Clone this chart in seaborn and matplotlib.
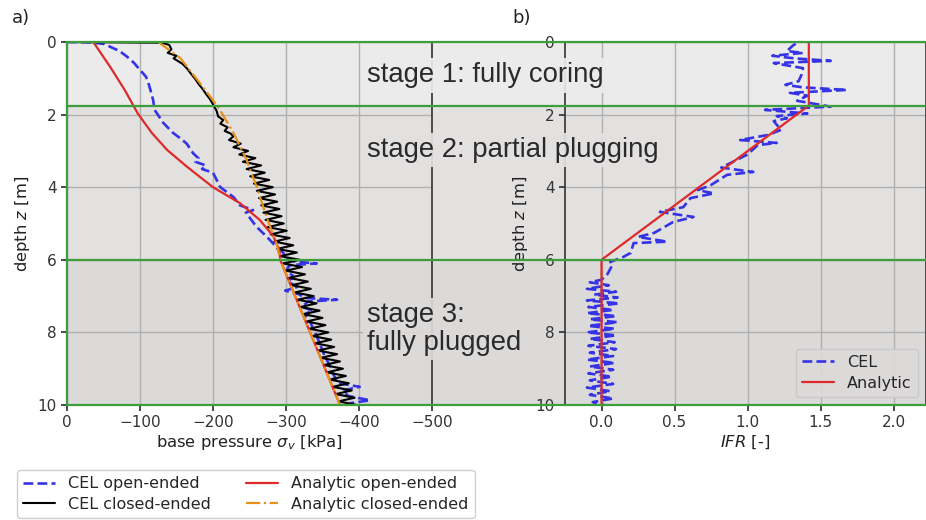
import numpy as np
import pandas as pd
import matplotlib
matplotlib.use("Agg")
import matplotlib.pyplot as plt
import seaborn as sns
from matplotlib.patches import Rectangle

# ---- data ----
# a) base pressure vs depth
open_cel_p = [0, -30, -50, -59, -72, -82, -92, -100, -108, -111, -114, -116, -118, -120,
              -126, -132, -145, -155, -164, -173, -180, -176, -190, -185, -200, -210, -228,
              -237, -255, -245, -260, -274, -287, -296, -300, -312, -342, -305, -300, -310,
              -303, -315, -299, -318, -325, -370, -330, -322, -337, -325, -332, -335, -340,
              -344, -348, -352, -357, -362, -366, -372, -401, -378, -385, -415, -388, -390]
open_cel_z = [0.0, 0.01, 0.05, 0.13, 0.25, 0.4, 0.58, 0.77, 0.95, 1.1, 1.3, 1.45, 1.6, 1.87,
              2.05, 2.23, 2.5, 2.65, 2.8, 3.07, 3.2, 3.3, 3.4, 3.5, 3.6, 4.0, 4.27,
              4.5, 4.63, 4.7, 5.1, 5.37, 5.65, 5.8, 5.95, 6.05, 6.1, 6.15, 6.3, 6.45,
              6.6, 6.75, 6.85, 6.95, 7.05, 7.1, 7.15, 7.3, 7.4, 7.5, 7.65, 7.8, 8.0,
              8.2, 8.4, 8.6, 8.8, 9.0, 9.2, 9.4, 9.5, 9.6, 9.75, 9.87, 9.95, 10.0]

closed_cel_p = [0, -130, -140, -143, -138, -150, -146, -158, -164, -170, -175, -180, -186,
                -190, -196, -201, -205, -207, -214, -210, -220, -216, -224,
                -228, -222, -238, -228, -248, -236, -258, -241, -266, -246, -271, -251,
                -277, -256, -282, -260, -285, -263, -288, -266, -291, -269, -294, -272,
                -297, -275, -301, -279, -305, -284, -310, -288, -315, -292, -319, -296,
                -322, -300, -326, -304, -330, -308, -334, -312, -338, -316, -342, -320,
                -346, -324, -350, -328, -354, -332, -358, -336, -362, -340, -366, -344,
                -370, -348, -374, -352, -378, -356, -382, -360, -386, -364, -390, -368,
                -394, -372, -397]
closed_cel_z = [0.0, 0.02, 0.08, 0.2, 0.3, 0.38, 0.45, 0.6, 0.72, 0.88, 1.0, 1.15, 1.3,
                1.42, 1.58, 1.75, 1.9, 2.05, 2.15, 2.25, 2.35, 2.45, 2.52,
                2.6, 2.7, 2.8, 2.9, 3.0, 3.1, 3.2, 3.3, 3.4, 3.5, 3.6, 3.7,
                3.8, 3.9, 4.0, 4.1, 4.2, 4.3, 4.4, 4.5, 4.6, 4.7, 4.8, 4.9,
                5.0, 5.1, 5.2, 5.3, 5.4, 5.5, 5.6, 5.7, 5.8, 5.9, 6.0, 6.1,
                6.2, 6.3, 6.4, 6.5, 6.6, 6.7, 6.8, 6.9, 7.0, 7.1, 7.2, 7.3,
                7.4, 7.5, 7.6, 7.7, 7.8, 7.9, 8.0, 8.1, 8.2, 8.3, 8.4, 8.5,
                8.6, 8.7, 8.8, 8.9, 9.0, 9.1, 9.2, 9.3, 9.4, 9.5, 9.6, 9.7,
                9.8, 9.9, 10.0]

open_ana_p = [-36, -59, -79, -97, -116, -137, -164, -200, -237, -264, -283, -291, -292, -333, -374]
open_ana_z = [0.0, 0.68, 1.32, 1.97, 2.5, 2.97, 3.43, 4.0, 4.44, 4.9, 5.36, 5.75, 6.0, 8.0, 10.0]

closed_ana_p = [-125, -155, -182, -207, -228, -246, -260, -273, -287, -292, -333, -374]
closed_ana_z = [0.0, 0.44, 1.13, 1.79, 2.5, 3.25, 4.0, 4.8, 5.55, 6.0, 8.0, 10.0]

# b) IFR vs depth
ifr_cel = [1.33, 1.31, 1.27, 1.38, 1.17, 1.32, 1.57, 1.18, 1.38, 1.37, 1.35, 1.26, 1.38,
           1.68, 1.29, 1.41, 1.34, 1.57, 1.12, 1.41, 1.2, 1.27, 1.18, 1.2, 1.23, 1.14,
           0.95, 1.2, 1.07, 1.0, 0.82, 1.04, 0.86, 0.75, 0.66, 0.77, 0.61, 0.56, 0.4,
           0.63, 0.49, 0.36, 0.25, 0.45, 0.22, 0.2, 0.15, 0.06, 0.075, 0.04, 0.0,
           -0.08, 0.05, -0.1, 0.1, -0.05, 0.11, -0.1, 0.12, -0.09, 0.08, -0.1, 0.1,
           -0.08, 0.11, -0.09, 0.09, -0.1, 0.1, -0.08, 0.09, -0.09, 0.1, -0.08, 0.08,
           -0.1, 0.09, -0.08, 0.08, -0.09, 0.07, -0.08, 0.08, -0.1, 0.06, -0.08, 0.08,
           -0.06, 0.02]
ifr_cel_z = [0.05, 0.1, 0.25, 0.3, 0.38, 0.45, 0.52, 0.58, 0.72, 0.9, 1.08, 1.18, 1.25,
             1.32, 1.4, 1.48, 1.62, 1.78, 1.87, 1.97, 2.04, 2.1, 2.18, 2.28, 2.42, 2.56,
             2.7, 2.78, 2.84, 3.1, 3.46, 3.58, 3.66, 3.94, 4.08, 4.17, 4.3, 4.55, 4.68,
             4.82, 4.96, 5.26, 5.37, 5.5, 5.54, 5.81, 5.92, 6.06, 6.14, 6.4, 6.55,
             6.62, 6.7, 6.8, 6.88, 6.96, 7.04, 7.12, 7.2, 7.3, 7.38, 7.47, 7.55,
             7.64, 7.72, 7.82, 7.9, 8.0, 8.08, 8.18, 8.27, 8.37, 8.46, 8.56, 8.65,
             8.75, 8.84, 8.94, 9.03, 9.13, 9.22, 9.32, 9.42, 9.52, 9.62, 9.72, 9.82,
             9.92, 10.0]

ifr_ana = [1.42, 1.42, 0.0, 0.0]
ifr_ana_z = [0.0, 1.75, 6.0, 10.0]

# stages
stage_bounds = [0.0, 1.75, 6.0, 10.0]
stage_colors = ["#ebebeb", "#e3e0e0", "#dcd9d9"]
stage_texts = ["stage 1: fully coring", "stage 2: partial plugging", "stage 3:\nfully plugged"]
stage_text_z = [0.92, 2.98, 7.9]

BLUE = "#3434e6"
RED = "#de2a2a"
ORANGE = "#e8911a"
GREEN = "#3c9f3c"

sns.set_theme(style="whitegrid", rc={
    "axes.facecolor": "none",
    "axes.edgecolor": "#333333",
    "axes.linewidth": 1.2,
    "grid.color": "#b0b0b0",
    "grid.linewidth": 1.0,
    "xtick.bottom": True,
    "ytick.left": True,
    "xtick.major.size": 4,
    "ytick.major.size": 4,
    "xtick.color": "#333333",
    "ytick.color": "#333333",
    "xtick.labelsize": 11,
    "ytick.labelsize": 11,
    "axes.labelsize": 11.8,
    "axes.labelcolor": "#222222",
    "legend.fontsize": 11.5,
})
plt.rcParams["font.family"] = ["DejaVu Sans"]

W, H = 926, 520
fig = plt.figure(figsize=(W / 100, H / 100), dpi=100)

top_px, bot_px = 42, 405
y0 = 1 - bot_px / H
hh = (bot_px - top_px) / H

# background bands
bg = fig.add_axes([67 / W, y0, 1 - 67 / W + 0.01, hh], zorder=0)
bg.set_xlim(0, 1)
bg.set_ylim(10, 0)
bg.axis("off")
for i in range(3):
    bg.add_patch(Rectangle((0, stage_bounds[i]), 1.1, stage_bounds[i + 1] - stage_bounds[i],
                           facecolor=stage_colors[i], edgecolor="none"))

ax1 = fig.add_axes([67 / W, y0, 365 / W, hh], zorder=1)
ax2 = fig.add_axes([565 / W, y0, (W - 565) / W, hh], zorder=1)

# a)
sns.lineplot(x=open_cel_p, y=open_cel_z, sort=False, estimator=None, ax=ax1,
             color=BLUE, lw=1.9, linestyle="--", label="CEL open-ended")
sns.lineplot(x=closed_cel_p, y=closed_cel_z, sort=False, estimator=None, ax=ax1,
             color="black", lw=1.5, label="CEL closed-ended")
sns.lineplot(x=open_ana_p, y=open_ana_z, sort=False, estimator=None, ax=ax1,
             color=RED, lw=1.6, label="Analytic open-ended")
sns.lineplot(x=closed_ana_p, y=closed_ana_z, sort=False, estimator=None, ax=ax1,
             color=ORANGE, lw=1.6, linestyle="-.", label="Analytic closed-ended")
ax1.set_xlim(0, -500)
ax1.set_ylim(10, 0)
ax1.set_xticks([0, -100, -200, -300, -400, -500])
ax1.set_yticks([0, 2, 4, 6, 8, 10])
ax1.set_xlabel(r"base pressure $\sigma_v$ [kPa]", labelpad=2)
ax1.set_ylabel(r"depth $z$ [m]")
h, l = ax1.get_legend_handles_labels()
ax1.get_legend().remove()
order = ["CEL open-ended", "CEL closed-ended", "Analytic open-ended", "Analytic closed-ended"]
hd = dict(zip(l, h))
fig.legend([hd[k] for k in order], order, ncol=2, loc="upper left",
           bbox_to_anchor=(17 / W, 1 - 470 / H), frameon=True, framealpha=1,
           facecolor="white", edgecolor="#d0d0d0", borderaxespad=0,
           labelspacing=0.35, columnspacing=2.2)

# b)
sns.lineplot(x=ifr_cel, y=ifr_cel_z, sort=False, estimator=None, ax=ax2,
             color=BLUE, lw=1.9, linestyle="--", label="CEL")
sns.lineplot(x=ifr_ana, y=ifr_ana_z, sort=False, estimator=None, ax=ax2,
             color=RED, lw=1.6, label="Analytic")
ax2.set_xlim(-0.25, -0.25 + (W - 565) / 146)
ax2.set_ylim(10, 0)
ax2.set_xticks([0.0, 0.5, 1.0, 1.5, 2.0])
ax2.set_yticks([0, 2, 4, 6, 8, 10])
ax2.set_xlabel(r"$IFR$ [-]", labelpad=2)
ax2.set_ylabel(r"depth $z$ [m]")
ax2.legend(loc="lower right", frameon=True, facecolor="#dcdada", edgecolor="#c8c8c8",
           framealpha=0.9, borderaxespad=0.5, labelspacing=0.35)

# overlay: stage borders and labels
top = fig.add_axes([67 / W, y0, 1 - 67 / W + 0.01, hh], zorder=2)
top.set_xlim(0, 1)
top.set_ylim(10, 0)
top.axis("off")
for b in stage_bounds:
    top.axhline(b, color=GREEN, lw=1.6, clip_on=False)
top.axvline(0, color=GREEN, lw=1.6, clip_on=False)
for i in range(3):
    top.text((367 - 67) / (W - 67 + 9.26), stage_text_z[i], stage_texts[i],
             family=["Liberation Sans", "DejaVu Sans"], fontsize=19.8, color="#2a2a2a",
             va="center", ha="left", linespacing=1.1,
             bbox=dict(boxstyle="square,pad=0.15", facecolor=stage_colors[i],
                       edgecolor="none", alpha=0.92))

fig.text(12 / W, 1 - 18 / H, "a)", fontsize=13, va="center", ha="left", color="#222222")
fig.text(512 / W, 1 - 18 / H, "b)", fontsize=13, va="center", ha="left", color="#222222")

fig.savefig("out.png", dpi=100)
